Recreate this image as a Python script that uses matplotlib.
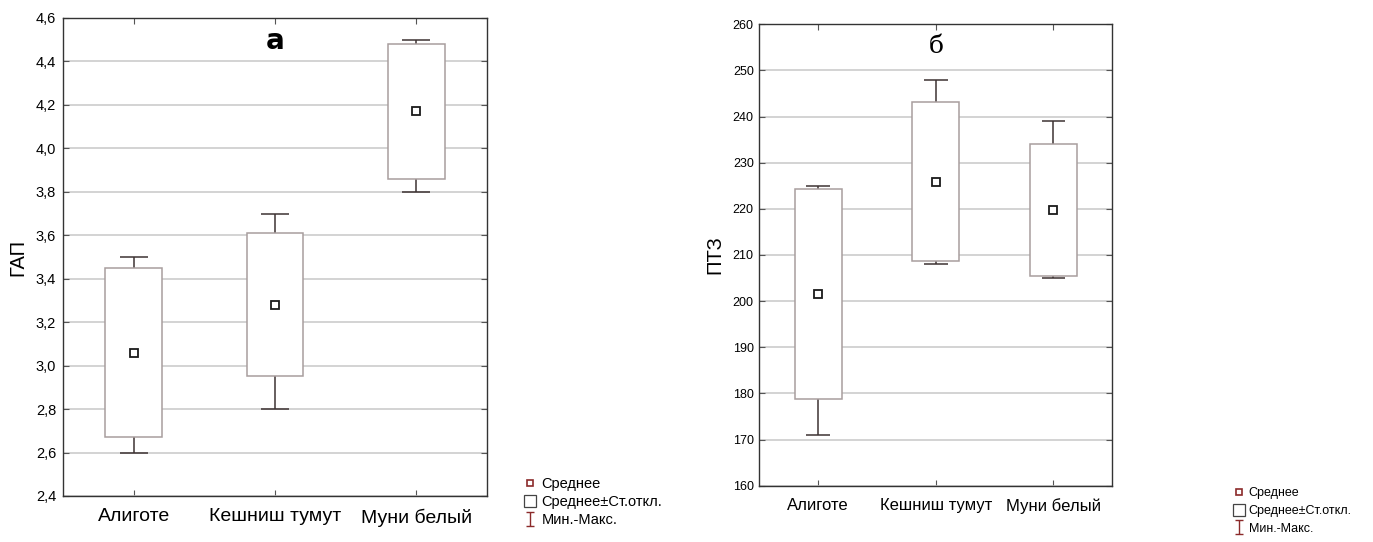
import matplotlib
matplotlib.use("Agg")
import matplotlib.pyplot as plt
from matplotlib.lines import Line2D
from matplotlib.path import Path
from matplotlib.ticker import FuncFormatter, MultipleLocator

plt.rcParams["font.family"] = ["Liberation Sans", "DejaVu Sans"]

# Data
varieties = ["Алиготе", "Кешниш тумут", "Муни белый"]

gap_mean = [3.06, 3.28, 4.17]
gap_sd_low = [2.67, 2.95, 3.86]
gap_sd_high = [3.45, 3.61, 4.48]
gap_min = [2.60, 2.80, 3.80]
gap_max = [3.50, 3.70, 4.50]

ptz_mean = [201.5, 225.9, 219.7]
ptz_sd_low = [178.7, 208.8, 205.4]
ptz_sd_high = [224.3, 243.2, 234.1]
ptz_min = [171, 208, 205]
ptz_max = [225, 248, 239]

legend_labels = ["Среднее", "Среднее±Ст.откл.", "Мин.-Макс."]

BOX_EDGE = "#a89e9e"
WHISK = "#3d3333"
LEG_RED = "#8b2a2a"
GRID = "#c8c8c8"

# I-shaped marker for the min-max legend entry
ipath = Path(
    [(-0.6, 1), (0.6, 1), (0, 1), (0, -1), (-0.6, -1), (0.6, -1)],
    [Path.MOVETO, Path.LINETO, Path.MOVETO, Path.LINETO, Path.MOVETO, Path.LINETO],
)


def draw_panel(ax, mean, lo, hi, mn, mx, ylim, step, ylabel, letter, letter_kw, fmt, sizes):
    x = list(range(len(varieties)))
    w = 0.4
    cap = 0.2
    ax.set_xlim(-0.5, len(varieties) - 0.5)
    ax.set_ylim(*ylim)
    ax.yaxis.set_major_locator(MultipleLocator(step))
    ax.yaxis.grid(True, color=GRID, linewidth=1.1, zorder=0)
    ax.set_axisbelow(True)

    for i in x:
        ax.vlines(i, hi[i], mx[i], color=WHISK, linewidth=1.1, zorder=2)
        ax.vlines(i, mn[i], lo[i], color=WHISK, linewidth=1.1, zorder=2)
        ax.hlines([mn[i], mx[i]], i - cap / 2, i + cap / 2, color=WHISK, linewidth=1.1, zorder=2)
    ax.bar(x, [h - l for h, l in zip(hi, lo)], bottom=lo, width=w,
           facecolor="white", edgecolor=BOX_EDGE, linewidth=1.1, zorder=3)
    ax.plot(x, mean, linestyle="none", marker="s", markersize=5.5,
            markerfacecolor="white", markeredgecolor="#1a1a1a", markeredgewidth=1.3, zorder=4)

    ax.set_xticks(x)
    ax.set_xticklabels(varieties, fontsize=sizes["xt"])
    ax.tick_params(axis="x", direction="in", top=True, length=4, pad=9, color="#555555")
    ax.tick_params(axis="y", direction="in", right=True, length=4, pad=sizes["ypad"],
                   labelsize=sizes["yt"], color="#555555")
    ax.yaxis.set_major_formatter(FuncFormatter(fmt))
    ax.set_ylabel(ylabel, fontsize=sizes["yl"], labelpad=sizes["lpad"])
    for s in ax.spines.values():
        s.set_color("#333333")
        s.set_linewidth(1.0)
    ax.text(0.5, letter_kw.pop("y"), letter, transform=ax.transAxes, ha="center",
            va="baseline", **letter_kw)


def add_legend(fig, anchor, fsize, spacing):
    handles = [
        Line2D([], [], linestyle="none", marker="s", markersize=4.5,
               markerfacecolor="white", markeredgecolor=LEG_RED, markeredgewidth=1.2),
        Line2D([], [], linestyle="none", marker="s", markersize=9,
               markerfacecolor="white", markeredgecolor="#444444", markeredgewidth=0.9),
        Line2D([], [], linestyle="none", marker=ipath, markersize=10,
               markerfacecolor="none", markeredgecolor=LEG_RED, markeredgewidth=1.0),
    ]
    fig.legend(handles, legend_labels, loc="upper left", bbox_to_anchor=anchor,
               frameon=False, fontsize=fsize, handlelength=0.9, handletextpad=0.35,
               labelspacing=spacing, borderpad=0, borderaxespad=0)


fig = plt.figure(figsize=(13.73, 5.42), dpi=100)
ax1 = fig.add_axes([0.0459, 0.0849, 0.3088, 0.8819])
ax2 = fig.add_axes([0.5530, 0.1039, 0.2571, 0.8513])

draw_panel(ax1, gap_mean, gap_sd_low, gap_sd_high, gap_min, gap_max,
           (2.4, 4.6), 0.2, "ГАП", "а",
           {"family": ["DejaVu Sans"], "fontweight": "bold", "fontsize": 20, "y": 0.935},
           lambda v, p: f"{v:.1f}".replace(".", ","),
           {"xt": 14, "yt": 10.5, "yl": 14.5, "ypad": 5, "lpad": 6})
draw_panel(ax2, ptz_mean, ptz_sd_low, ptz_sd_high, ptz_min, ptz_max,
           (160, 260), 10, "ПТЗ", "б",
           {"family": ["DejaVu Serif"], "fontsize": 18, "y": 0.937},
           lambda v, p: f"{v:.0f}",
           {"xt": 12, "yt": 9, "yl": 14.5, "ypad": 4, "lpad": 6})

add_legend(fig, (0.3810, 0.120), 10.5, 0.28)
add_legend(fig, (0.8980, 0.101), 9, 0.45)

fig.savefig("out.png", dpi=100)
plt.close(fig)
